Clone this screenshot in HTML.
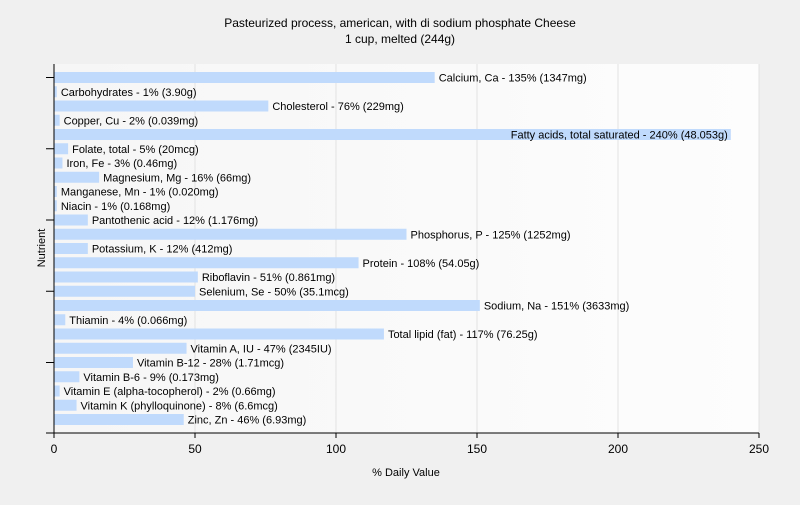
<!DOCTYPE html>
<html><head><meta charset="utf-8"><style>
body{margin:0;background:#f0f0f0;font-family:"Liberation Sans",sans-serif;}
svg text{font-family:"Liberation Sans",sans-serif;}
</style></head><body>
<svg id="c" width="800" height="500" xmlns="http://www.w3.org/2000/svg">
<defs><linearGradient id="bg" x1="0" x2="1" y1="0" y2="0"><stop offset="0" stop-color="#f6f6f6"/><stop offset="1" stop-color="#fdfdfd"/></linearGradient></defs>
<rect x="0" y="0" width="800" height="500" fill="#f0f0f0"/>
<text x="400" y="27" text-anchor="middle" font-size="12">Pasteurized process, american, with di sodium phosphate Cheese</text>
<text x="400" y="43" text-anchor="middle" font-size="12">1 cup, melted (244g)</text>
<rect x="54" y="64" width="705" height="369" fill="url(#bg)"/>
<g id="grid"></g><g id="bars"></g><g id="axes"></g>
<text x="406" y="476" text-anchor="middle" font-size="11">% Daily Value</text>
<text x="0" y="0" transform="translate(45,248) rotate(-90)" text-anchor="middle" font-size="11">Nutrient</text>
</svg>
<script>
const names=["Calcium, Ca","Carbohydrates","Cholesterol","Copper, Cu","Fatty acids, total saturated","Folate, total","Iron, Fe","Magnesium, Mg","Manganese, Mn","Niacin","Pantothenic acid","Phosphorus, P","Potassium, K","Protein","Riboflavin","Selenium, Se","Sodium, Na","Thiamin","Total lipid (fat)","Vitamin A, IU","Vitamin B-12","Vitamin B-6","Vitamin E (alpha-tocopherol)","Vitamin K (phylloquinone)","Zinc, Zn"];
const values=[135,1,76,2,240,5,3,16,1,1,12,125,12,108,51,50,151,4,117,47,28,9,2,8,46];
const amounts=["1347mg","3.90g","229mg","0.039mg","48.053g","20mcg","0.46mg","66mg","0.020mg","0.168mg","1.176mg","1252mg","412mg","54.05g","0.861mg","35.1mcg","3633mg","0.066mg","76.25g","2345IU","1.71mcg","0.173mg","0.66mg","6.6mcg","6.93mg"];
const xTicks=[0,50,100,150,200,250];
const NS="http://www.w3.org/2000/svg";
const X0=54,X1=759,Y0=64,Y1=433,xMax=250;
const xs=v=>X0+v/xMax*(X1-X0);
const yc=i=>77.5+i*(419.5-77.5)/(names.length-1);
function mk(t,a,p){const e=document.createElementNS(NS,t);for(const k in a)e.setAttribute(k,a[k]);p.appendChild(e);return e;}
const grid=document.getElementById('grid'),bars=document.getElementById('bars'),axes=document.getElementById('axes');
xTicks.forEach(t=>{
 if(t>0){const g=mk('line',{x1:xs(t),x2:xs(t),y1:Y0,y2:Y1,stroke:'#e2e2e2'},grid);
 
 }
 const tk=mk('line',{x1:xs(t),x2:xs(t),y1:Y1,y2:Y1+5,stroke:'#000'},axes);
 
 
 const l=mk('text',{x:xs(t),y:Y1+20,'text-anchor':'middle','font-size':'12'},axes);l.textContent=t;
 
 
});
names.forEach((n,i)=>{
 const y=yc(i),x=xs(values[i]);
 const r=mk('rect',{x:X0,y:y-5.5,width:Math.max(x-X0,1),height:11,fill:'#c0dafc'},bars);
 
 
 const txt=n+' - '+values[i]+'% ('+amounts[i]+')';
 const t=mk('text',{x:x+4,y:y+4,'font-size':'11'},bars);t.textContent=txt;
 
 
 if(x+4+t.getComputedTextLength()>X1){t.setAttribute('x',x-3);t.setAttribute('text-anchor','end');}
 if(i%5===0){const k=mk('line',{x1:X0-8,x2:X0,y1:y,y2:y,stroke:'#000'},axes);
 
 }
});
const ya=mk('line',{x1:X0,x2:X0,y1:Y0,y2:Y1,stroke:'#000'},axes);


const xa=mk('line',{x1:X0-8,x2:X1,y1:Y1,y2:Y1,stroke:'#000'},axes);


</script>
</body></html>
